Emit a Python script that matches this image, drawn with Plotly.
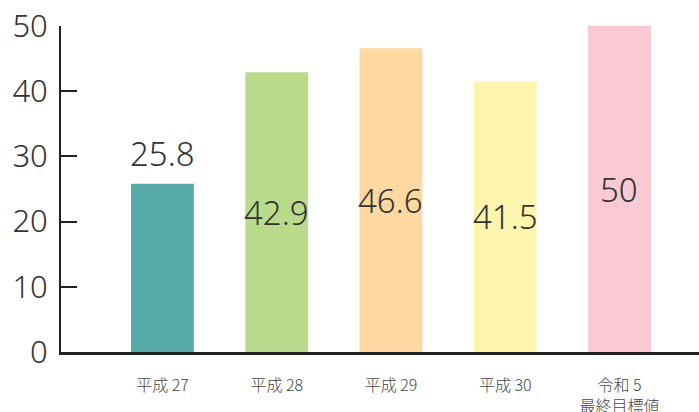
import plotly.graph_objects as go

categories = ["平成 27", "平成 28", "平成 29", "平成 30", "令和 5<br>最終目標値"]
values = [25.8, 42.9, 46.6, 41.5, 50]
colors = ["#57AAAA", "#BBDB8C", "#FDD8A0", "#FEF6AE", "#F9C9D4"]
label_text = ["25.8", "42.9", "46.6", "41.5", "50"]
y_ticks = [0, 10, 20, 30, 40, 50]

FONT = "Noto Sans, Noto Sans CJK JP, sans-serif"
CJK = "Noto Sans CJK JP, Noto Sans, sans-serif"

fig = go.Figure()
fig.add_trace(go.Bar(
    x=categories, y=values, marker=dict(color=colors, line=dict(width=0)),
    width=0.55, hoverinfo="skip",
))

annotations = []
for i, (c, v, t) in enumerate(zip(categories, values, label_text)):
    if i == 0:
        annotations.append(dict(x=c, y=v, text=t, showarrow=False, yanchor="bottom",
                                yshift=6, font=dict(size=33, color="#333333", family=FONT, weight=300)))
    else:
        annotations.append(dict(x=c, y=v / 2, text=t, showarrow=False, yanchor="middle",
                                font=dict(size=33, color="#333333", family=FONT, weight=300)))

fig.update_layout(
    width=699, height=412,
    margin=dict(l=61, r=0, t=26, b=60),
    plot_bgcolor="white", paper_bgcolor="white",
    showlegend=False,
    annotations=annotations,
    font=dict(family=FONT, color="#333333"),
    xaxis=dict(
        type="category", range=[-0.888, 4.696], automargin=False,
        showline=True, linecolor="#222222", linewidth=3,
        showgrid=False, zeroline=False, ticks="",
        tickfont=dict(size=16, color="#444444", family=CJK, weight=300),
        ticklabelstandoff=17,
    ),
    yaxis=dict(
        range=[0, 50], tickvals=y_ticks, ticktext=[str(v) for v in y_ticks],
        automargin=False,
        showline=True, linecolor="#222222", linewidth=2,
        showgrid=False, zeroline=False,
        ticks="inside", ticklen=16, tickwidth=2, tickcolor="#222222",
        tickfont=dict(size=31, color="#333333", family=FONT, weight=300),
        ticklabelstandoff=5,
    ),
)

fig.write_html("out.html", config={"displayModeBar": False},
               post_script="document.body.style.margin='0';document.body.style.padding='0';")
